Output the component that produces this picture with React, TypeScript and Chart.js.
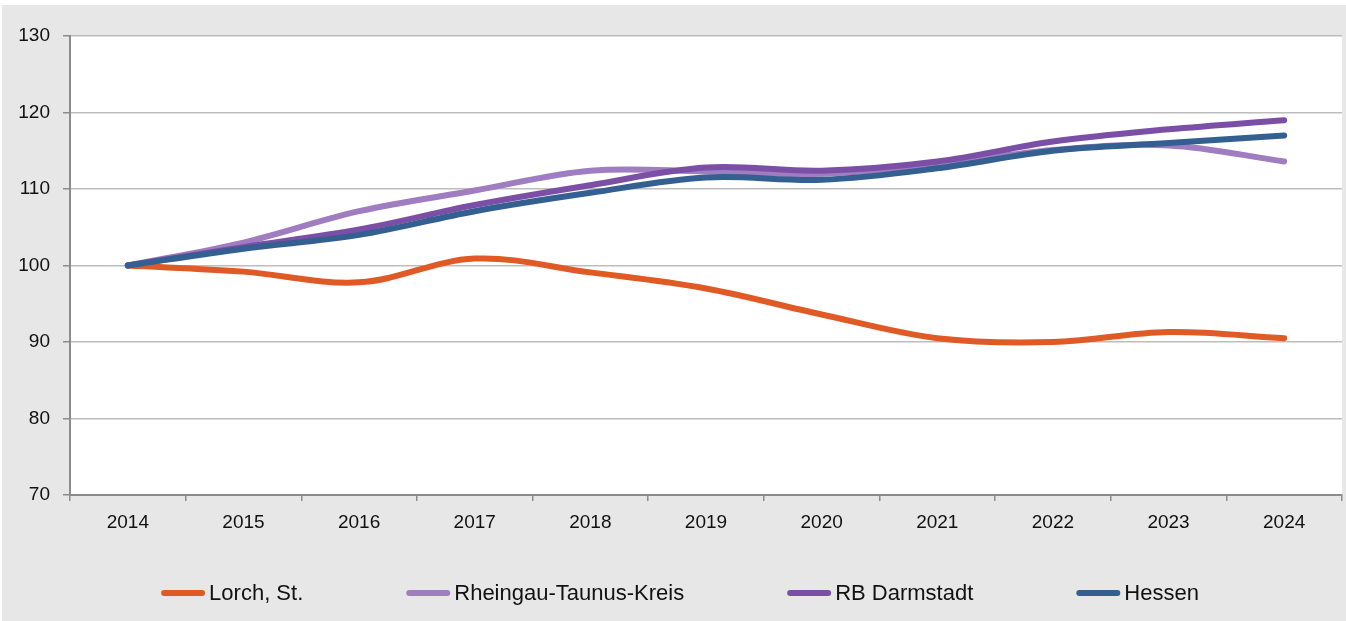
import React, { useEffect, useRef } from 'react';
import { Chart, registerables } from 'chart.js';

Chart.register(...registerables);

const years = ['2014', '2015', '2016', '2017', '2018', '2019', '2020', '2021', '2022', '2023', '2024'];
const seriesNames = ['Lorch, St.', 'Rheingau-Taunus-Kreis', 'RB Darmstadt', 'Hessen'];
const lorch = [100, 99.2, 97.8, 100.9, 99.1, 97.0, 93.6, 90.5, 90.0, 91.3, 90.5];
const rheingau = [100, 103.0, 107.1, 109.8, 112.4, 112.3, 112.0, 113.2, 115.1, 115.7, 113.6];
const rbDarmstadt = [100, 102.4, 104.7, 107.9, 110.5, 112.8, 112.4, 113.6, 116.2, 117.8, 119.0];
const hessen = [100, 102.2, 104.0, 107.1, 109.5, 111.5, 111.2, 112.7, 115.0, 116.0, 117.0];
const yMin = 70;
const yMax = 130;
const yStep = 10;
const colors = ['#e05a26', '#a07cc0', '#7b4fa6', '#345f91'];

const FONT = '"Liberation Sans", Arial, sans-serif';

const plotBg = {
  id: 'plotBg',
  beforeDraw(chart: any) {
    const { ctx, chartArea } = chart;
    const { left, top, right, bottom } = chartArea;
    ctx.save();
    ctx.fillStyle = '#ffffff';
    ctx.fillRect(left, top, right - left, bottom - top);
    ctx.restore();
  },
};

const lineLegend = {
  id: 'lineLegend',
  afterDraw(chart: any) {
    const ctx = chart.ctx;
    ctx.save();
    ctx.font = `22px ${FONT}`;
    const sw = 44;
    const gapT = 4;
    const gap = 103;
    const items = chart.data.datasets.map((ds: any) => ({
      label: ds.label,
      color: ds.borderColor,
      w: sw + gapT + ctx.measureText(ds.label).width,
    }));
    const total = items.reduce((s: number, i: any) => s + i.w, 0) + gap * (items.length - 1);
    let x = chart.width / 2 + 6 - total / 2;
    const y = chart.height - 28;
    items.forEach((it: any) => {
      ctx.lineCap = 'round';
      ctx.lineWidth = 6;
      ctx.strokeStyle = it.color;
      ctx.beginPath();
      ctx.moveTo(x + 3, y);
      ctx.lineTo(x + sw - 3, y);
      ctx.stroke();
      ctx.fillStyle = '#111111';
      ctx.textBaseline = 'middle';
      ctx.textAlign = 'left';
      ctx.fillText(it.label, x + sw + gapT, y + 1);
      x += it.w + gap;
    });
    ctx.restore();
  },
};

export default function App() {
  const ref = useRef<HTMLCanvasElement | null>(null);

  useEffect(() => {
    if (!ref.current) return;
    const seriesData = [lorch, rheingau, rbDarmstadt, hessen];
    const chart = new Chart(ref.current, {
      type: 'line',
      data: {
        labels: years,
        datasets: seriesData.map((d, i) => ({
          label: seriesNames[i],
          data: d,
          borderColor: colors[i],
          backgroundColor: colors[i],
          borderWidth: 6,
          borderCapStyle: 'round',
          borderJoinStyle: 'round',
          pointRadius: 0,
          pointHoverRadius: 0,
          tension: 0.35,
          fill: false,
          order: seriesData.length - i,
        })),
      },
      options: {
        animation: false,
        responsive: false,
        maintainAspectRatio: false,
        layout: { padding: { top: 31, right: 4, bottom: 86, left: 0 } },
        plugins: {
          legend: { display: false },
          tooltip: { enabled: false },
          title: { display: false },
        },
        scales: {
          x: {
            type: 'category',
            offset: true,
            grid: {
              offset: true,
              drawOnChartArea: false,
              drawTicks: true,
              tickLength: 6,
              color: '#8c8c8c',
              lineWidth: 1.5,
            },
            border: { color: '#8c8c8c', width: 2 },
            ticks: {
              color: '#111111',
              font: { family: FONT, size: 19 },
              padding: 10,
              maxRotation: 0,
              autoSkip: false,
            },
            afterFit: (s: any) => {
              s.height = 40;
            },
          },
          y: {
            min: yMin,
            max: yMax,
            ticks: {
              stepSize: yStep,
              color: '#111111',
              font: { family: FONT, size: 19 },
              padding: 13,
            },
            grid: {
              color: '#bdbdbd',
              lineWidth: 1.5,
              tickLength: 7,
              tickColor: '#8c8c8c',
            },
            border: { color: '#8c8c8c', width: 2 },
            afterFit: (s: any) => {
              s.width = 68;
            },
          },
        },
      },
      plugins: [plotBg, lineLegend],
    });
    return () => chart.destroy();
  }, []);

  return (
    <div style={{ position: 'absolute', left: 0, top: 0, width: 1346, height: 621, background: '#ffffff', overflow: 'hidden' }}>
      <div style={{ position: 'absolute', left: 2, top: 5, width: 1344, height: 616, background: '#e7e7e7' }}>
        <canvas ref={ref} width={1344} height={616} style={{ display: 'block', width: 1344, height: 616 }} />
      </div>
    </div>
  );
}
